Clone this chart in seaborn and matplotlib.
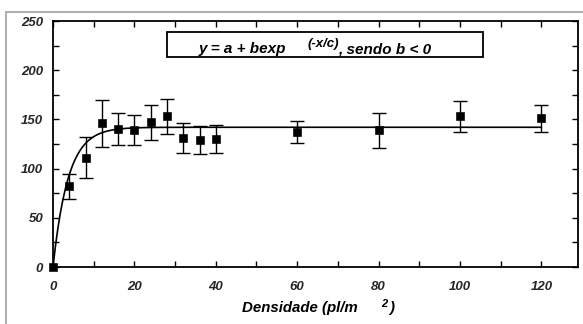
import numpy as np
import pandas as pd
import matplotlib
matplotlib.use("Agg")
import matplotlib.pyplot as plt
from matplotlib.patches import Rectangle
from matplotlib.ticker import MultipleLocator
import seaborn as sns

# Données
densidade = [0, 4, 8, 12, 16, 20, 24, 28, 32, 36, 40, 60, 80, 100, 120]
media = [0, 82, 111, 146, 140, 139, 147, 153, 131, 129, 130, 137, 139, 153, 151]
erro = [0, 13, 21, 24, 16, 15, 18, 18, 15, 14, 14, 11, 18, 16, 14]

# Paramètres du modèle y = a + b*exp(-x/c)
a, b, c = 142.0, -142.0, 3.7

df = pd.DataFrame({"x": densidade, "y": media, "err": erro})
xs = np.linspace(0, 120, 400)
curve = pd.DataFrame({"x": xs, "y": a + b * np.exp(-xs / c)})

sns.set_style("ticks")
plt.rcParams["font.family"] = ["Liberation Sans", "DejaVu Sans"]

W, H = 583, 324
fig = plt.figure(figsize=(W / 100, H / 100), dpi=100)
ax = fig.add_axes([53 / W, 1 - 267 / H, (578 - 53) / W, (267 - 21) / H])

sns.lineplot(data=curve, x="x", y="y", ax=ax, color="black", lw=1.2)
ax.errorbar(df["x"][1:], df["y"][1:], yerr=df["err"][1:], fmt="none",
            ecolor="black", elinewidth=1.0, capsize=5, capthick=1.0)
sns.scatterplot(data=df, x="x", y="y", ax=ax, marker="s", s=32,
                color="black", edgecolor="black", zorder=5, clip_on=False)

ax.set_xlim(0, 129)
ax.set_ylim(0, 250)
ax.xaxis.set_major_locator(MultipleLocator(20))
ax.xaxis.set_minor_locator(MultipleLocator(10))
ax.yaxis.set_major_locator(MultipleLocator(50))
ax.yaxis.set_minor_locator(MultipleLocator(25))
ax.tick_params(which="both", direction="in", top=True, right=True,
               width=1.0, color="black")
ax.tick_params(which="major", length=4)
ax.tick_params(which="minor", length=4)
ax.tick_params(axis="x", pad=10)
ax.tick_params(axis="y", pad=7)
for lab in ax.get_xticklabels() + ax.get_yticklabels():
    lab.set_fontsize(9.5)
    lab.set_fontweight("bold")
    lab.set_fontstyle("italic")
for sp in ax.spines.values():
    sp.set_linewidth(1.3)
    sp.set_color("black")
ax.set_xlabel("")
ax.set_ylabel("")

# Cadre gris extérieur
fig.patches.append(Rectangle((6 / W, -0.2), 1.2, 1 - 12 / H + 0.2,
                             transform=fig.transFigure, fill=False,
                             edgecolor="#b0b0b0", lw=1.5, clip_on=False))

# Boîte de l'équation
fig.patches.append(Rectangle((167 / W, 1 - 57 / H), (483 - 167) / W, 25 / H,
                             transform=fig.transFigure, fill=False,
                             edgecolor="black", lw=1.3))
font = dict(fontweight="bold", fontstyle="italic", color="black")
fig.text(199 / W, 1 - 53 / H, "y = a + bexp", fontsize=11, **font)
fig.text(308 / W, 1 - 47 / H, "(-x/c)", fontsize=9.5, **font)
fig.text(338 / W, 1 - 53 / H, ", sendo b < 0", fontsize=11, **font)

# Titre de l'axe x
fig.text(242 / W, 1 - 312 / H, "Densidade (pl/m", fontsize=10.8, **font)
fig.text(381 / W, 1 - 307 / H, "2", fontsize=8, **font)
fig.text(389 / W, 1 - 312 / H, ")", fontsize=10.8, **font)

fig.savefig("out.png", dpi=100)
